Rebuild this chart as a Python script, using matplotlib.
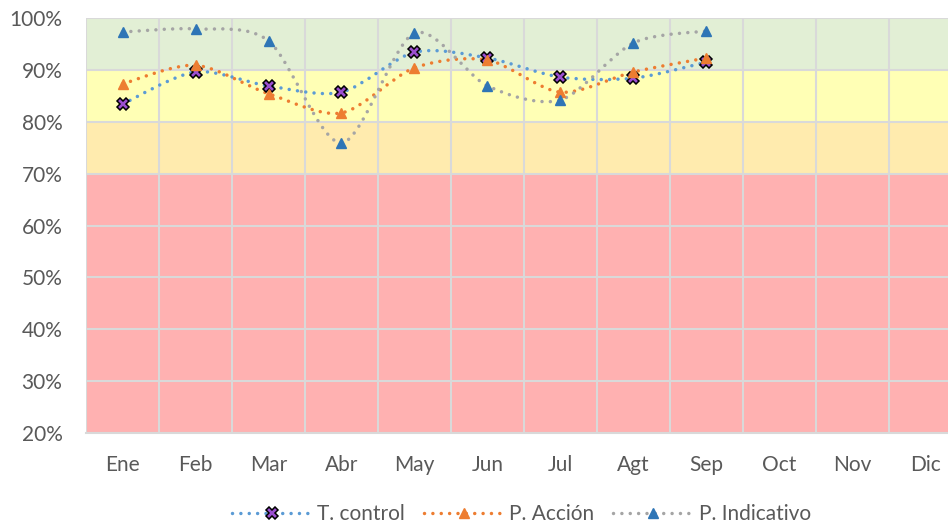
import numpy as np
import matplotlib
matplotlib.use("Agg")
import matplotlib.pyplot as plt
from matplotlib.path import Path
from matplotlib.patches import PathPatch
from matplotlib.lines import Line2D

plt.rcParams['font.family'] = ['Lato', 'DejaVu Sans']

# Data
meses = ['Ene', 'Feb', 'Mar', 'Abr', 'May', 'Jun', 'Jul', 'Agt', 'Sep', 'Oct', 'Nov', 'Dic']
t_control = [0.834, 0.896, 0.869, 0.857, 0.934, 0.923, 0.886, 0.884, 0.915]
p_accion = [0.873, 0.909, 0.854, 0.817, 0.904, 0.919, 0.857, 0.896, 0.923]
p_indicativo = [0.973, 0.979, 0.956, 0.759, 0.971, 0.869, 0.842, 0.952, 0.975]

# bandas de fondo (desde, hasta, color)
bandas = [(0.2, 0.7, '#FFB1B1'), (0.7, 0.8, '#FFEBAE'),
          (0.8, 0.9, '#FFFFB5'), (0.9, 1.0, '#E2EFD5')]


def smooth_path(x, y, t=1.0 / 7):
    # curva tipo Excel: bezier con puntos de control catmull-rom
    verts = [(x[0], y[0])]
    codes = [Path.MOVETO]
    n = len(x)
    for i in range(n - 1):
        x0, y0 = (x[i - 1], y[i - 1]) if i > 0 else (x[i], y[i])
        x3, y3 = (x[i + 2], y[i + 2]) if i + 2 < n else (x[i + 1], y[i + 1])
        c1 = (x[i] + (x[i + 1] - x0) * t, y[i] + (y[i + 1] - y0) * t)
        c2 = (x[i + 1] - (x3 - x[i]) * t, y[i + 1] - (y3 - y[i]) * t)
        verts += [c1, c2, (x[i + 1], y[i + 1])]
        codes += [Path.CURVE4] * 3
    return Path(verts, codes)


fig = plt.figure(figsize=(9.48, 5.27), dpi=100)
ax = fig.add_axes([86 / 948, 94 / 527, 876 / 948, 415 / 527])

for lo, hi, c in bandas:
    ax.axhspan(lo, hi, color=c, zorder=0, lw=0)

ax.set_xlim(-0.5, 11.5)
ax.set_ylim(0.2, 1.0)
ax.set_yticks(np.arange(0.2, 1.01, 0.1))
ax.set_yticklabels(['%d%%' % round(v * 100) for v in np.arange(0.2, 1.01, 0.1)])
ax.set_xticks(range(12))
ax.set_xticklabels(meses)
ax.set_xticks(np.arange(-0.5, 12, 1), minor=True)

ax.grid(True, axis='y', which='major', color='#D9D9D9', lw=1.5, zorder=1)
ax.grid(True, axis='x', which='minor', color='#D9D9D9', lw=1.5, zorder=1)
ax.tick_params(which='both', length=0)
ax.tick_params(axis='y', labelsize=15, labelcolor='#595959', pad=17)
ax.tick_params(axis='x', labelsize=15, labelcolor='#595959', pad=16)
for s in ax.spines.values():
    s.set_visible(False)
ax.spines['bottom'].set_visible(True)
ax.spines['bottom'].set_color('#D9D9D9')
ax.spines['bottom'].set_linewidth(1.5)

dots = (0, (0.01, 2.4))
series = [
    ('T. control', t_control, '#5B9BD5', dict(marker='X', ms=8.5, mfc='#9B4FD0', mec='black', mew=1.1)),
    ('P. Acción', p_accion, '#ED7D31', dict(marker='^', ms=7, mfc='#ED7D31', mec='#ED7D31')),
    ('P. Indicativo', p_indicativo, '#A5A5A5', dict(marker='^', ms=7, mfc='#2E75B6', mec='#2E75B6')),
]

handles = []
for i, (nombre, vals, color, mk) in enumerate(series):
    xs = np.arange(len(vals))
    patch = PathPatch(smooth_path(xs, vals), fill=False, edgecolor=color, lw=2.5,
                      linestyle=dots, capstyle='round', zorder=3 + i)
    ax.add_patch(patch)
    ax.plot(xs, vals, ls='none', zorder=6 + i, **mk)
    handles.append(Line2D([], [], color=color, lw=2.5, linestyle=dots,
                          dash_capstyle='round', **mk))

fig.legend(handles, [s[0] for s in series], loc='center', bbox_to_anchor=(0.55, 0.025),
           ncol=3, frameon=False, fontsize=15, handlelength=3.8, columnspacing=0.9,
           handletextpad=0.3, labelcolor='#595959')

fig.savefig('out.png', dpi=100)
